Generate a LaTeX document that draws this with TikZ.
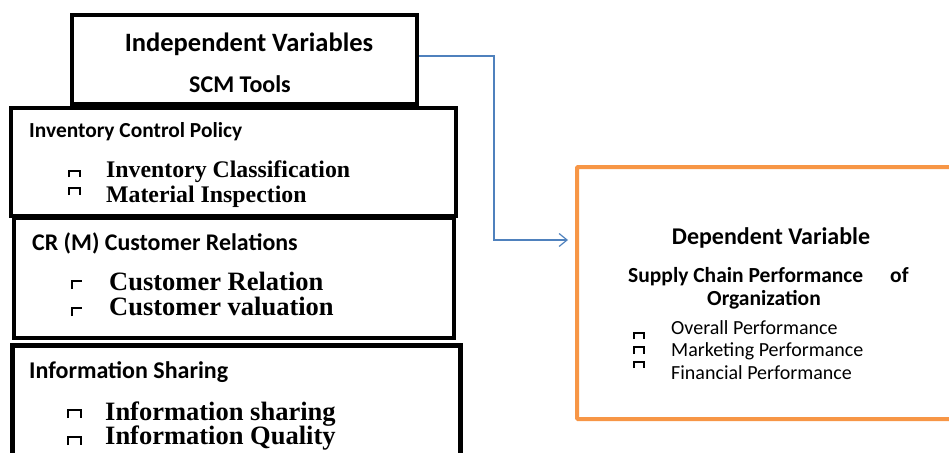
\documentclass[tikz,border=0pt]{standalone}
\usepackage{fontspec}
\setmainfont{Liberation Serif}
\newfontfamily\calibri{Carlito}
\usetikzlibrary{arrows.meta}
\definecolor{linkblue}{RGB}{79,129,189}
\definecolor{frameorange}{RGB}{247,150,70}

\begin{document}
\begin{tikzpicture}[x=1pt,y=-1pt,
  box/.style={draw, line width=4pt, fill=white, inner sep=0pt},
  head/.style={font=\calibri\bfseries, inner sep=0pt, anchor=base},
  label/.style={font=\calibri\bfseries, inner sep=0pt, anchor=base west},
  item/.style={font=\bfseries, inner sep=0pt, anchor=base west},
  perf/.style={font=\calibri, inner sep=0pt, anchor=base west},
  sqmark/.style={line width=1.4pt},
  link/.style={draw=linkblue, line width=1.2pt, -{Straight Barb[length=8pt,width=13pt]}}]
\useasboundingbox (0,0) rectangle (949,452);

% boxes
\node[box, minimum width=445pt, minimum height=107.5pt] (inv) at (233.5,161.75) {};
\node[box, minimum width=440pt, minimum height=120pt] (crm) at (234,278) {};
\node[box, line width=5pt, minimum width=447.5pt, minimum height=134.5pt] (info) at (236.25,412.75) {};
\node[box, minimum width=345pt, minimum height=88.5pt] (indep) at (244.5,59.75) {};
\node[box, draw=frameorange, rounded corners=1pt, minimum width=403pt, minimum height=252pt] (dep) at (778.5,293) {};

% headings
\node[head, font=\calibri\bfseries\fontsize{26.5}{28}\selectfont] (indeptitle) at (249,52) {Independent Variables};
\node[head, font=\calibri\bfseries\fontsize{24}{26}\selectfont] (scm) at (240,92) {SCM Tools};
\node[label, font=\calibri\bfseries\fontsize{21.4}{23}\selectfont] (invtitle) at (29,137) {Inventory Control Policy};
\node[label, font=\calibri\bfseries\fontsize{23.9}{26}\selectfont] (crmtitle) at (32,250) {CR (M) Customer Relations};
\node[label, font=\calibri\bfseries\fontsize{24}{26}\selectfont] (infotitle) at (29,378) {Information Sharing};

% items
\node[item, font=\bfseries\fontsize{23.8}{25}\selectfont] (classif) at (106,177) {Inventory Classification};
\node[item, font=\bfseries\fontsize{23.8}{25}\selectfont] (inspect) at (106,202) {Material Inspection};
\node[item, font=\bfseries\fontsize{26.5}{28}\selectfont] (relation) at (109,290) {Customer Relation};
\node[item, font=\bfseries\fontsize{26.5}{28}\selectfont] (valuation) at (109,315) {Customer valuation};
\node[item, font=\bfseries\fontsize{26.5}{28}\selectfont] (sharing) at (105,420) {Information sharing};
\node[item, font=\bfseries\fontsize{26.5}{28}\selectfont] (quality) at (105,444) {Information Quality};

% dependent side
\node[head, font=\calibri\bfseries\fontsize{24}{26}\selectfont] (deptitle) at (771,244) {Dependent Variable};
\node[label, font=\calibri\bfseries\fontsize{21.5}{23}\selectfont] (supply) at (628,282) {Supply Chain Performance};
\node[label, font=\calibri\bfseries\fontsize{21.5}{23}\selectfont] (of) at (890,282) {of};
\node[head, font=\calibri\bfseries\fontsize{21.5}{23}\selectfont] (org) at (764,305) {Organization};
\node[perf, font=\calibri\fontsize{20}{22}\selectfont] (overall) at (671,334) {Overall Performance};
\node[perf, font=\calibri\fontsize{20}{22}\selectfont] (market) at (671,356) {Marketing Performance};
\node[perf, font=\calibri\fontsize{20}{22}\selectfont] (financial) at (671,379) {Financial Performance};

% little marks
\foreach \x/\y/\w/\h in {69/171/11/6, 69/188/11/7, 68/410/13/8, 68/437/13/8, 634/333/10/6, 634/347/10/7, 634/362/10/6}
  \draw[sqmark] (\x,\y+\h) -- (\x,\y) -- (\x+\w,\y) -- (\x+\w,\y+\h);
\foreach \y in {281,308}
  \draw[sqmark] (72,\y+8) -- (72,\y) -- (82,\y);

% connector
\coordinate (bend) at (494,240);
\coordinate (tip) at (568,240);
\draw[link] ([yshift=3.75pt]indep.east) -| (bend) -- (tip);
\end{tikzpicture}
\end{document}
